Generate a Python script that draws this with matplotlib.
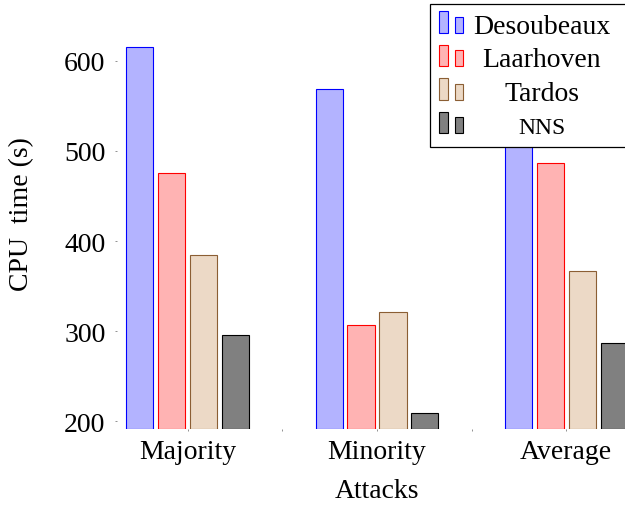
import numpy as np
import matplotlib
matplotlib.use("Agg")
import matplotlib.pyplot as plt
import matplotlib.transforms as mtransforms
from matplotlib.patches import Rectangle

plt.rcParams['font.family'] = ['Liberation Serif', 'DejaVu Serif']

# Data
categories = ['Majority', 'Minority', 'Average']
series = ['Desoubeaux', 'Laarhoven', 'Tardos', 'NNS']
desoubeaux = [615, 569, 590]
laarhoven = [476, 307, 487]
tardos = [385, 321, 367]
nns = [296, 209, 287]
values = [desoubeaux, laarhoven, tardos, nns]

fills = ['#b3b3ff', '#ffb3b3', '#ecd9c6', '#808080']
edges = ['#0000ff', '#ff0000', '#8b5e34', '#000000']

W, H = 625, 506
fig = plt.figure(figsize=(W / 100, H / 100), dpi=100)
# axes runs a little past the right edge like the original
ax = fig.add_axes([117 / W, (H - 430.3) / H, 520 / W, 433.3 / H])

ymin, ymax = 191.1, 672
x = np.arange(len(categories))
step = 0.169
width = 0.143
for i, vals in enumerate(values):
    v = np.array(vals)
    ax.bar(x + (i - 1.5) * step, v - ymin, bottom=ymin, width=width,
           color=fills[i], edgecolor=edges[i], linewidth=0.8)

ax.set_xlim(-0.374, 2.374)
ax.set_ylim(ymin, ymax)
ax.set_yticks([200, 300, 400, 500, 600])
ax.set_xticks(x)
ax.set_xticklabels(categories)
ax.set_xticks([0.5, 1.5], minor=True)
for s in ax.spines.values():
    s.set_visible(False)
ax.tick_params(axis='both', which='both', length=1.2, width=0.6, color='gray',
               labelsize=20, pad=6)
ax.tick_params(axis='y', pad=7)

ax.set_ylabel('CPU  time (s)', fontsize=20, va='center')
ax.yaxis.set_label_coords((21.5 - 117) / 520, 0.5)
ax.set_xlabel('Attacks', fontsize=20, va='baseline')
ax.xaxis.set_label_coords(0.5, 1 - (498 + 3) / 433.3)

# legend drawn by hand (pgfplots style: two small bars, centred text)
px = mtransforms.Affine2D().scale(1 / W, -1 / H).translate(0, 1) + fig.transFigure
fig.add_artist(Rectangle((430, 148), 197, -143, transform=px, facecolor='white',
                         edgecolor='black', linewidth=0.9))
label_sizes = [20, 20, 20, 17]
for i, name in enumerate(series):
    base = 33.5 + 33.6 * i
    fig.add_artist(Rectangle((439, base), 8.5, -21.5, transform=px,
                             facecolor=fills[i], edgecolor=edges[i], linewidth=0.8))
    fig.add_artist(Rectangle((454.5, base), 8.5, -16, transform=px,
                             facecolor=fills[i], edgecolor=edges[i], linewidth=0.8))
    fig.text(542, base, name, transform=px, ha='center', va='baseline',
             fontsize=label_sizes[i])

fig.savefig('out.png', dpi=100)
